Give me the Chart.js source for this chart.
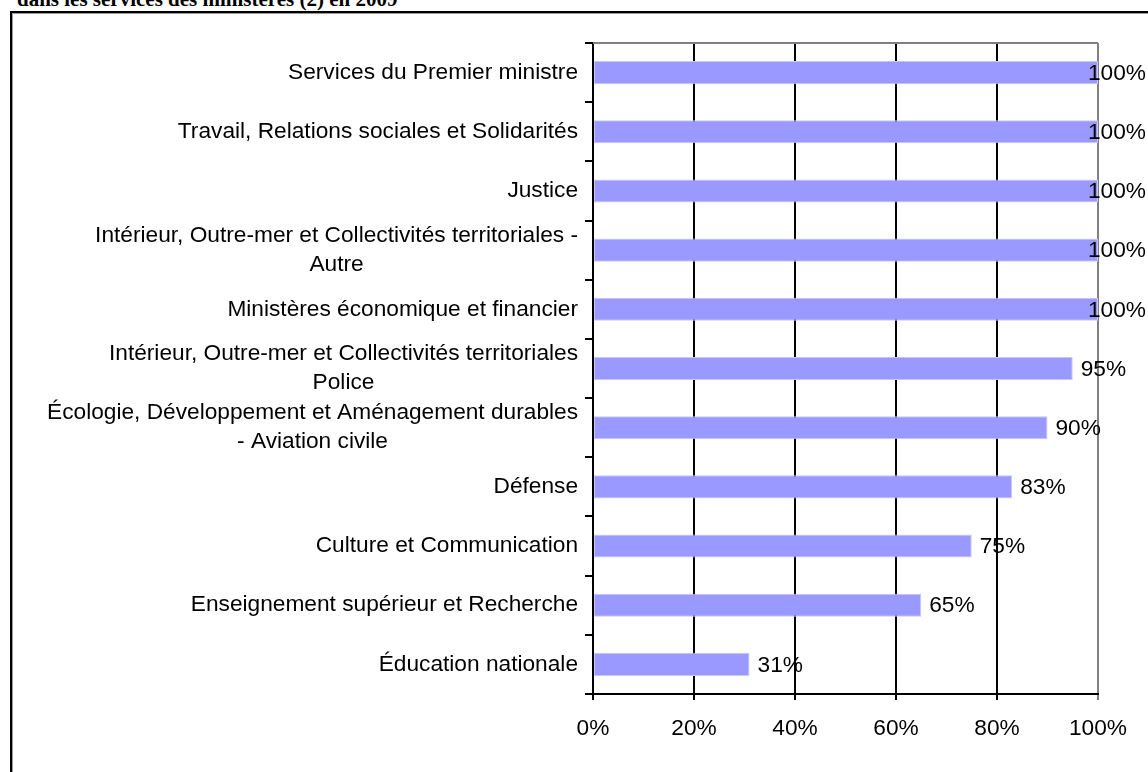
<!DOCTYPE html>
<html lang="fr">
<head>
<meta charset="utf-8">
<title>Ministères 2009</title>
<script src="https://cdn.jsdelivr.net/npm/chart.js@4.4.1/dist/chart.umd.min.js"></script>
<style>
  html, body { margin: 0; padding: 0; background: #fff; overflow: hidden; }
  #titre {
    position: absolute; left: 17px; top: -11px;
    font: bold 21px "Liberation Serif", "Times New Roman", serif;
    line-height: 21px; white-space: nowrap; color: #000;
  }
  #cadre {
    position: absolute; left: 10px; top: 11px; width: 1200px; height: 800px;
    border-left: 2px solid #000; border-top: 2px solid #000;
    box-shadow: inset 1px 1px 0 #999;
  }
  #zone { position: absolute; left: 0; top: 0; width: 1148px; height: 772px; }
</style>
</head>
<body>
<div id="titre">dans les services des ministères (2) en 2009</div>
<div id="cadre"></div>
<div id="zone"><canvas id="graphique"></canvas></div>
<script>
// libellés des ministères (une ligne par élément quand le libellé est coupé)
var ministeres = [
    ['Services du Premier ministre'],
    ['Travail, Relations sociales et Solidarités'],
    ['Justice'],
    ['Intérieur, Outre-mer et Collectivités territoriales -', 'Autre'],
    ['Ministères économique et financier'],
    ['Intérieur, Outre-mer et Collectivités territoriales', 'Police'],
    ['Écologie, Développement et Aménagement durables', '- Aviation civile'],
    ['Défense'],
    ['Culture et Communication'],
    ['Enseignement supérieur et Recherche'],
    ['Éducation nationale']
];
var taux = [100, 100, 100, 100, 100, 95, 90, 83, 75, 65, 31];
var graduations = [0, 20, 40, 60, 80, 100];

var police = '"Liberation Sans", Arial, sans-serif';
var taille = 22.7;

// libellés de l'axe vertical, centrés ligne par ligne et calés à droite
var etiquettesY = {
    id: 'etiquettesY',
    afterDraw: function (chart) {
        var ctx = chart.ctx;
        var axe = chart.scales.y;
        ctx.save();
        ctx.font = taille + 'px ' + police;
        ctx.fillStyle = '#000';
        ctx.textAlign = 'center';
        ctx.textBaseline = 'middle';
        chart.data.labels.forEach(function (lib, i) {
            var larg = Math.max.apply(null, lib.map(function (l) { return ctx.measureText(l).width; }));
            var cx = axe.right - 15 - larg / 2;
            var cy = axe.getPixelForValue(i);
            lib.forEach(function (l, k) {
                ctx.fillText(l, cx, cy + (k - (lib.length - 1) / 2) * 29);
            });
        });
        ctx.restore();
    }
};

// valeur en bout de barre, ramenée dans le cadre si elle déborde
var valeurs = {
    id: 'valeurs',
    afterDatasetsDraw: function (chart) {
        var ctx = chart.ctx;
        ctx.save();
        ctx.font = taille + 'px ' + police;
        ctx.fillStyle = '#000';
        ctx.textAlign = 'left';
        ctx.textBaseline = 'middle';
        chart.getDatasetMeta(0).data.forEach(function (barre, i) {
            var txt = taux[i] + '%';
            var w = ctx.measureText(txt).width;
            var x = Math.min(barre.x + 8, chart.width - 2 - w);
            ctx.fillText(txt, x, barre.y + 1);
        });
        ctx.restore();
    }
};

// trait gris en haut de la zone de tracé
var bordHaut = {
    id: 'bordHaut',
    beforeDatasetsDraw: function (chart) {
        var a = chart.chartArea;
        var ctx = chart.ctx;
        ctx.save();
        ctx.strokeStyle = '#808080';
        ctx.lineWidth = 2;
        ctx.beginPath();
        ctx.moveTo(a.left, a.top);
        ctx.lineTo(a.right, a.top);
        ctx.stroke();
        ctx.restore();
    }
};

new Chart(document.getElementById('graphique'), {
    type: 'bar',
    data: {
        labels: ministeres,
        datasets: [{
            data: taux,
            backgroundColor: '#9999ff',
            borderColor: '#c6c6ff',
            borderWidth: 1,
            borderSkipped: false,
            barPercentage: 0.39,
            categoryPercentage: 1
        }]
    },
    options: {
        indexAxis: 'y',
        responsive: true,
        maintainAspectRatio: false,
        animation: false,
        layout: { padding: { top: 43, right: 50, left: 0, bottom: 0 } },
        plugins: { legend: { display: false }, tooltip: { enabled: false } },
        scales: {
            x: {
                min: 0,
                max: 100,
                afterFit: function (s) { s.height = 78; },
                afterBuildTicks: function (s) {
                    s.ticks = graduations.map(function (v) { return { value: v }; });
                },
                border: { color: '#000', width: 2 },
                grid: {
                    color: function (c) { return c.tick && c.tick.value === 100 ? '#808080' : '#000'; },
                    lineWidth: 2,
                    tickLength: 6
                },
                ticks: {
                    padding: 15,
                    color: '#000',
                    font: { family: police, size: taille },
                    maxRotation: 0,
                    callback: function (v) { return v + '%'; }
                }
            },
            y: {
                afterFit: function (s) { s.width = 593; },
                border: { color: '#000', width: 2 },
                grid: { drawOnChartArea: false, tickLength: 8, color: '#000', lineWidth: 2, offset: true },
                ticks: { display: false }
            }
        }
    },
    plugins: [bordHaut, valeurs, etiquettesY]
});
</script>
</body>
</html>
